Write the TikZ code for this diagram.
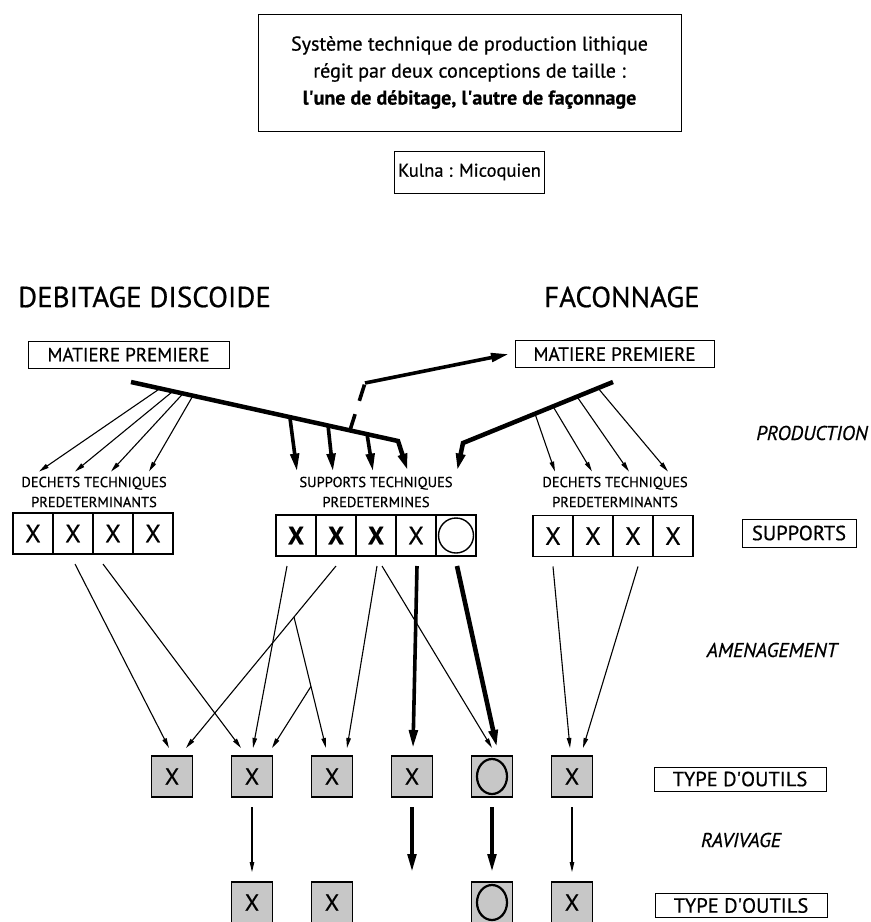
\documentclass[tikz,border=0pt]{standalone}
\usepackage{fontspec}
\setmainfont{PT Sans}[FakeBold=0.6]
\usetikzlibrary{arrows.meta, positioning, calc}

\begin{document}
\begin{tikzpicture}[x=1pt, y=-1pt]
    \tikzstyle{labelbox}=[draw, line width=1pt, inner sep=0pt, outer sep=0pt]
    \tikzstyle{cellbox}=[draw, line width=1.2pt, minimum width=40pt, minimum height=41pt, inner sep=0pt, outer sep=0pt, font=\fontsize{25}{25}\selectfont]
    \tikzstyle{toolbox}=[draw, line width=1.4pt, fill=black!22, minimum width=41pt, minimum height=41pt, inner sep=0pt, outer sep=0pt, font=\fontsize{23}{23}\selectfont]
    \tikzstyle{thinarrow}=[-{Triangle[length=10pt,width=4.5pt]}, line width=1.1pt]
    \tikzstyle{thickarrow}=[-{Triangle[length=18pt,width=8.5pt]}, line width=3.6pt]
    \tikzstyle{heading}=[font=\fontsize{29}{29}\selectfont, inner sep=0pt, anchor=west]
    \tikzstyle{caption}=[font=\fontsize{14.5}{20}\selectfont, align=center, inner sep=0pt]
    \tikzstyle{stage}=[font=\fontsize{20}{20}\selectfont\itshape, inner sep=0pt]
    \tikzstyle{tag}=[labelbox, font=\fontsize{20.5}{20.5}\selectfont]

    \useasboundingbox (0,0) rectangle (871,922);

    % title
    \node[labelbox, minimum width=423pt, minimum height=117pt, align=center, font=\fontsize{20}{27}\selectfont] (title) at (469.5,72.5)
        {Système technique de production lithique\\régit par deux conceptions de taille :\\\textbf{l\textquotesingle une de débitage, l\textquotesingle autre de façonnage}};
    \node[labelbox, minimum width=150pt, minimum height=42pt, font=\fontsize{18.5}{18.5}\selectfont, below=20pt of title] (site) {Kulna : Micoquien};

    \node[heading] (debitage) at (18,297) {DEBITAGE DISCOIDE};
    \node[heading] (faconnage) at (544,297) {FACONNAGE};

    \node[labelbox, minimum width=201pt, minimum height=27pt, font=\fontsize{19}{19}\selectfont] (mpleft) at (128.5,354.5) {MATIERE PREMIERE};
    \node[labelbox, minimum width=199pt, minimum height=27pt, font=\fontsize{19}{19}\selectfont] (mpright) at (614.5,354) {MATIERE PREMIERE};

    \node[caption] (dechetsL) at (94,492) {DECHETS TECHNIQUES\\PREDETERMINANTS};
    \node[caption] (supportsT) at (376,492) {SUPPORTS TECHNIQUES\\PREDETERMINES};
    \node[caption] (dechetsR) at (615,492) {DECHETS TECHNIQUES\\PREDETERMINANTS};

    % production bars
    \coordinate (lbarA) at (131,382);
    \coordinate (lbarB) at (398,441);
    \coordinate (rbarA) at (613,382);
    \coordinate (rbarB) at (463,443);
    \coordinate (bend) at (365,383);

    \draw[thickarrow, line width=4.5pt] (lbarA) -- (lbarB) -- ([xshift=32pt,yshift=5pt]supportsT.north);
    \draw[thickarrow, line width=4.5pt] (rbarA) -- (rbarB) -- ([xshift=81pt,yshift=5pt]supportsT.north);
    \foreach \t/\dx in {0.595/-79, 0.738/-43, 0.884/-3}
        \draw[thickarrow] ($(lbarA)!\t!(lbarB)$) -- ([xshift=\dx pt,yshift=5pt]supportsT.north);
    \foreach \t/\dx in {0.109/-55, 0.157/-19, 0.195/17, 0.232/55}
        \draw[thinarrow] ($(lbarA)!\t!(lbarB)$) -- ([xshift=\dx pt,yshift=5pt]dechetsL.north);
    \foreach \t/\dx in {0.52/-60, 0.4/-23, 0.24/14, 0.1/53}
        \draw[thinarrow] ($(rbarA)!\t!(rbarB)$) -- ([xshift=\dx pt,yshift=5pt]dechetsR.north);

    \draw[line width=3.6pt, dash pattern=on 17pt off 14pt] ($(lbarA)!0.82!(lbarB)$) -- (bend);
    \draw[thickarrow] (bend) -- ([xshift=-6pt]mpright.west);

    % supports
    \node[cellbox] (L1) at (33,533.5) {X};
    \node[cellbox, right=0pt of L1] (L2) {X};
    \node[cellbox, right=0pt of L2] (L3) {X};
    \node[cellbox, right=0pt of L3] (L4) {X};

    \node[cellbox, font=\fontsize{25}{25}\selectfont\bfseries] (M1) at (296,535.5) {X};
    \node[cellbox, font=\fontsize{25}{25}\selectfont\bfseries, right=0pt of M1] (M2) {X};
    \node[cellbox, font=\fontsize{25}{25}\selectfont\bfseries, right=0pt of M2] (M3) {X};
    \node[cellbox, right=0pt of M3] (M4) {X};
    \node[cellbox, right=0pt of M4] (M5) {};
    \draw[line width=1.4pt] (M5.center) circle (17.5pt);

    \node[cellbox] (R1) at (553,536) {X};
    \node[cellbox, right=0pt of R1] (R2) {X};
    \node[cellbox, right=0pt of R2] (R3) {X};
    \node[cellbox, right=0pt of R3] (R4) {X};

    % tools
    \node[toolbox] (T1) at (172,776.5) {X};
    \node[toolbox, right=39pt of T1] (T2) {X};
    \node[toolbox, right=39pt of T2] (T3) {X};
    \node[toolbox, right=39pt of T3] (T4) {X};
    \node[toolbox, right=39pt of T4] (T5) {};
    \node[toolbox, right=39pt of T5] (T6) {X};
    \draw[line width=2.2pt] (T5.center) ellipse (15pt and 17.5pt);

    \node[toolbox, below=85pt of T2] (T2b) {X};
    \node[toolbox, below=85pt of T3] (T3b) {X};
    \node[toolbox, below=85pt of T5] (T5b) {};
    \node[toolbox, below=85pt of T6] (T6b) {X};
    \draw[line width=2.2pt] (T5b.center) ellipse (15pt and 17.5pt);

    % amenagement
    \draw[thinarrow] ([xshift=2pt,yshift=-10pt]L2.south) -- ([xshift=-3pt,yshift=8pt]T1.north);
    \draw[thinarrow] ([xshift=-10pt,yshift=-10pt]L3.south) -- ([xshift=-11pt,yshift=8pt]T2.north);
    \draw[thinarrow] ([xshift=-9pt,yshift=-10pt]M1.south) -- ([xshift=1pt,yshift=8pt]T2.north);
    \coordinate (m2out) at ([yshift=-10pt]M2.south);
    \coordinate (t1in) at ([xshift=14pt,yshift=8pt]T1.north);
    \coordinate (t3in) at ([xshift=-6pt,yshift=8pt]T3.north);
    \draw[thinarrow] (m2out) -- (t1in);
    \coordinate (fork1) at ($(m2out)!0.28!(t1in)$);
    \draw[thinarrow] (fork1) -- (t3in);
    \coordinate (fork2) at ($(fork1)!0.53!(t3in)$);
    \draw[thinarrow] (fork2) -- ([xshift=20pt,yshift=8pt]T2.north);
    \draw[thinarrow] ([xshift=1pt,yshift=-10pt]M3.south) -- ([xshift=15pt,yshift=8pt]T3.north);
    \draw[thinarrow] ([xshift=6pt,yshift=-10pt]M3.south) -- ([yshift=8pt]T5.north);
    \draw[thickarrow] ([xshift=1pt,yshift=-10pt]M4.south) -- ([xshift=1pt,yshift=8pt]T4.north);
    \draw[thickarrow, line width=4.6pt] ([xshift=1pt,yshift=-10pt]M5.south) -- ([xshift=5pt,yshift=8pt]T5.north);
    \draw[thinarrow] ([yshift=-10pt]R1.south) -- ([xshift=-2pt,yshift=8pt]T6.north);
    \draw[thinarrow] ([xshift=5pt,yshift=-10pt]R3.south) -- ([xshift=11pt,yshift=8pt]T6.north);

    % ravivage
    \coordinate (t4out) at ([yshift=-75pt]T4.south);
    \draw[thinarrow] ([yshift=-10pt]T2.south) -- ([yshift=10pt]T2b.north);
    \draw[thickarrow] ([yshift=-10pt]T4.south) -- (t4out);
    \draw[thickarrow] ([yshift=-10pt]T5.south) -- ([yshift=10pt]T5b.north);
    \draw[thinarrow] ([yshift=-10pt]T6.south) -- ([yshift=10pt]T6b.north);

    % right column
    \node[stage] (production) at (812,433) {PRODUCTION};
    \node[tag, minimum width=114pt, minimum height=28pt] (supportsbox) at (799,533) {SUPPORTS};
    \node[stage] (amenagement) at (772,650) {AMENAGEMENT};
    \node[tag, minimum width=172pt, minimum height=24pt] (typeA) at (740,779) {TYPE D\textquotesingle OUTILS};
    \node[stage] (ravivage) at (741,840) {RAVIVAGE};
    \node[tag, minimum width=172pt, minimum height=24pt] (typeB) at (741,905.5) {TYPE D\textquotesingle OUTILS};
\end{tikzpicture}
\end{document}
